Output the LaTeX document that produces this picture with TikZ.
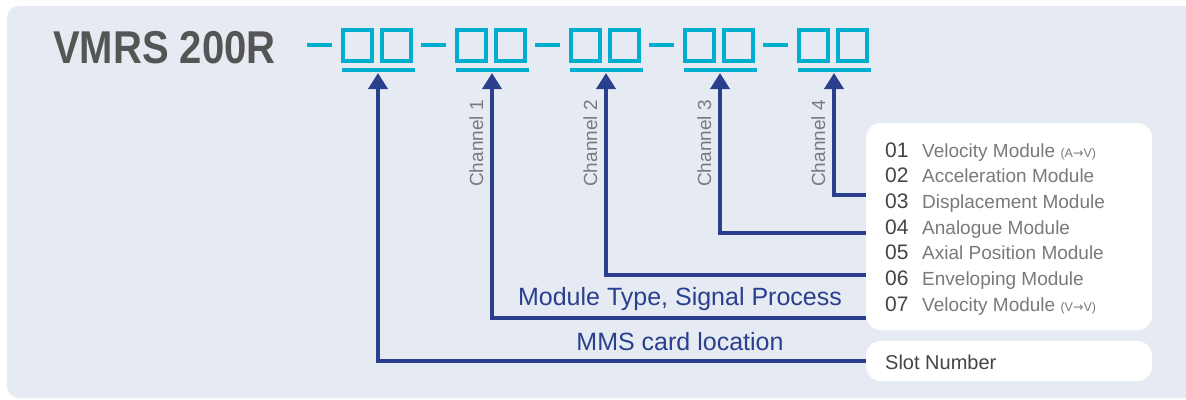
\documentclass[tikz,border=0pt]{standalone}
\usepackage{fontspec}
\setmainfont{Liberation Sans}
\newfontfamily\symfont{DejaVu Sans}
\usepackage{tikz}
\usetikzlibrary{arrows.meta,positioning,calc}
\definecolor{panelbg}{HTML}{E6EBF3}
\definecolor{codecyan}{HTML}{00AECF}
\definecolor{arrowblue}{HTML}{2A3F8E}
\definecolor{titlegray}{HTML}{555555}
\definecolor{numgray}{HTML}{444444}
\definecolor{textgray}{HTML}{7A7A7A}
\newcommand\modesub[2]{{\fontsize{12.5}{13}\selectfont(#1{\symfont→}#2)}}

\begin{document}
\begin{tikzpicture}
    [x=1pt,y=-1pt,
     codebox/.style={draw=codecyan,line width=3.6pt},
     codebar/.style={fill=codecyan},
     arr/.style={draw=arrowblue,line width=3.6pt,-{Triangle[width=19pt,length=16pt]}},
     card/.style={fill=white,rounded corners=15pt,inner sep=0pt},
     chan/.style={rotate=90,anchor=base west,inner sep=0pt,text=textgray,font=\fontsize{19}{19}\selectfont},
     lbl/.style={anchor=base,inner sep=0pt,text=arrowblue,font=\fontsize{25}{25}\selectfont},
     itemtxt/.style={anchor=base west,inner sep=0pt,text=textgray,font=\fontsize{19}{19}\selectfont},
     itemnum/.style={anchor=base west,inner sep=0pt,text=numgray,font=\fontsize{21}{21}\selectfont}]
%background panel
  \useasboundingbox (0,0) rectangle (1186,399);
  \fill[white] (0,0) rectangle (1186,399);
  \clip (0,0) rectangle (1186,399);
  \fill[panelbg,rounded corners=12pt] (7,6) rectangle (1210,398);

%order code
  \node[anchor=base west,inner sep=0pt,text=titlegray,xscale=0.87,font=\bfseries\fontsize{46}{46}\selectfont] (title) at (53,63) {VMRS 200R};
  \foreach \g in {0,...,4}{
    \pgfmathsetmacro\gx{341+114*\g}
    \fill[codebar] (\gx-34,43) rectangle ++(25,4);
    \draw[codebox] (\gx+2,30) rectangle ++(29,31);
    \draw[codebox] (\gx+41,30) rectangle ++(29,31);
    \fill[codebar] (\gx+1,68) rectangle ++(73,4);
    \coordinate (tip\g) at (\gx+37,73);
  }

%cards on the right
  \node[card,minimum width=286pt,minimum height=207pt] (mods) at (1009,226.5) {};
  \node[card,minimum width=286pt,minimum height=40pt] (slot) at (1009,361) {};
  \foreach \n/\txt [count=\i from 0] in {01/{Velocity Module \modesub{A}{V}},02/Acceleration Module,03/Displacement Module,04/Analogue Module,05/Axial Position Module,06/Enveloping Module,07/{Velocity Module \modesub{V}{V}}}{
    \node[itemnum] (num\i) at (885,157+25.7*\i) {\n};
    \node[itemtxt] (item\i) at (922,157+25.7*\i) {\txt};
  }
  \node[itemnum,font=\fontsize{20}{20}\selectfont] (slottxt) at (885,369) {Slot Number};

%connectors
  \coordinate (lv1) at (0,318);
  \coordinate (lv2) at (0,275);
  \coordinate (lv3) at (0,233);
  \coordinate (lv4) at (0,195);
  \draw[arr] (slot.west) -| (tip0);
  \foreach \c in {1,...,4}{
    \draw[arr] (mods.west |- lv\c) -| (tip\c);
    \node[chan] (ch\c) at ($(tip\c)+(-9,114)$) {Channel \c};
  }
  \node[lbl] (mtype) at (680,305) {Module Type, Signal Process};
  \node[lbl] (mms) at (680,350) {MMS card location};
\end{tikzpicture}
\end{document}
